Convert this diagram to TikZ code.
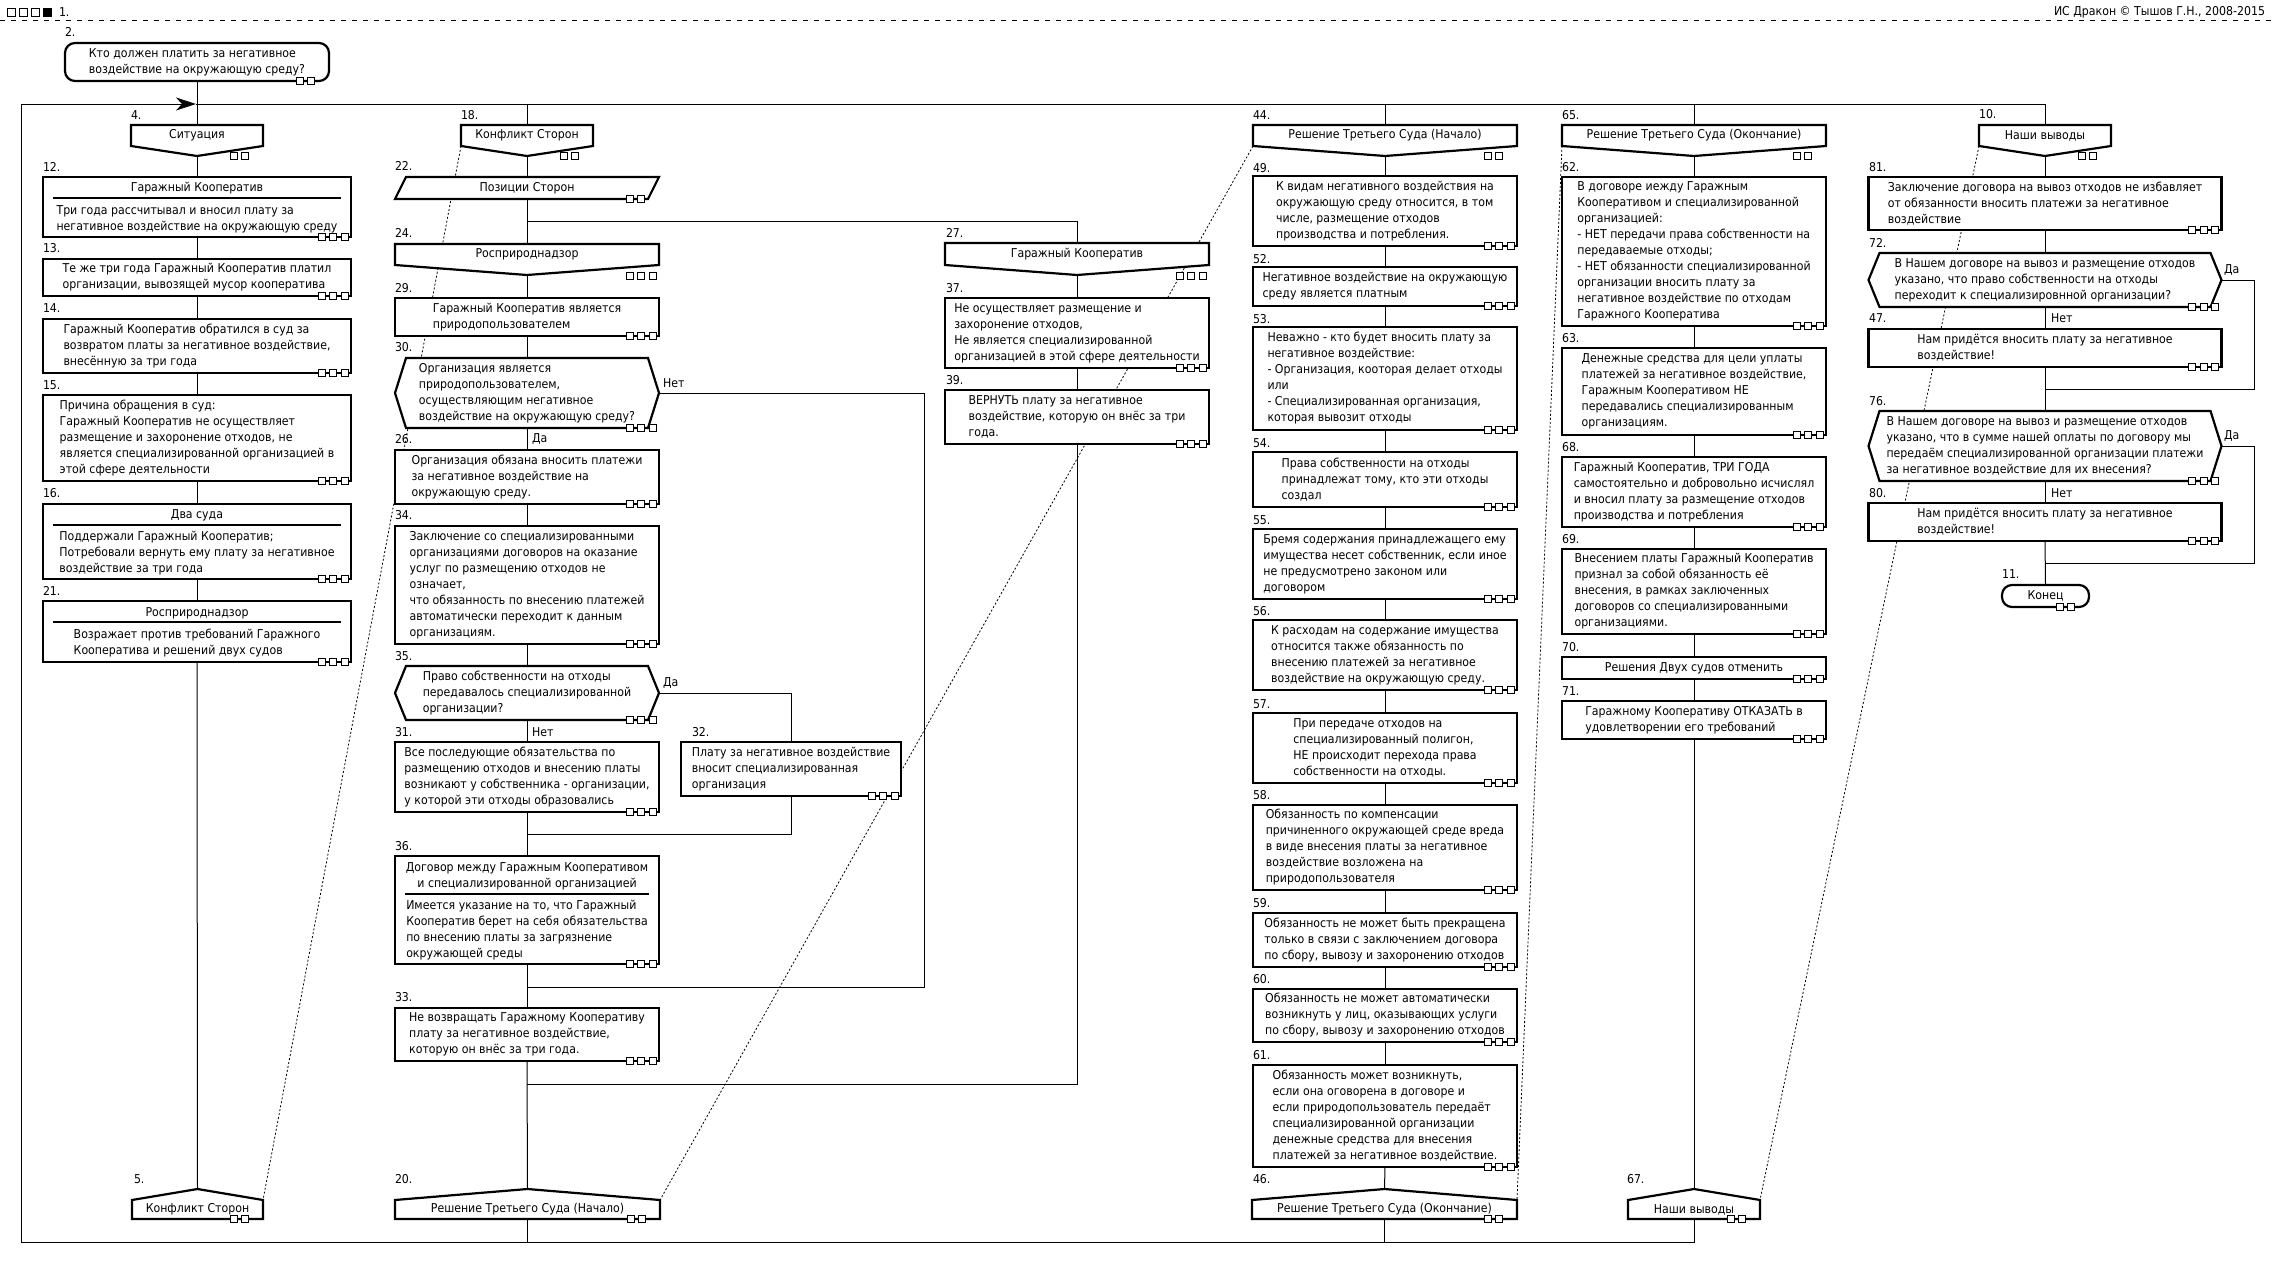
\documentclass[tikz,border=0pt]{standalone}
\usepackage{fontspec}
\setmainfont{DejaVu Sans}[FakeStretch=0.9]
\usetikzlibrary{arrows.meta,calc}
\pgfdeclarelayer{bg}
\pgfsetlayers{bg,main}
% three (or two) small tabs at the lower right of a block
\newcommand{\tabs}[3]{%
  \foreach \dx in {#2}
    \draw[tab] ([xshift=\dx,yshift=-#3]#1.south east) +(-3.5,-3.5) rectangle +(3.5,3.5);}

\begin{document}
\begin{tikzpicture}[
  x=1pt, y=-1pt,
  every node/.style={font=\fontsize{12.2}{16}\selectfont, inner sep=0pt, outer sep=0pt},
  act/.style={draw, line width=2.2pt, align=left, minimum width=264, fill=white},
  wide/.style={act, minimum width=308},
  big/.style={act, minimum width=353},
  shp/.style={align=left, minimum width=264, minimum height=21},
  lbl/.style={anchor=west},
  flow/.style={line width=1pt},
  heavy/.style={line width=2.2pt, line join=miter},
  tab/.style={draw, line width=1pt, fill=white},
  dots/.style={line width=0.8pt, dash pattern=on 2pt off 2pt}
]
\useasboundingbox (0,0) rectangle (2276,1263);

% top strip
\foreach \i in {0,1,2} \draw[line width=1pt] (7.5+12*\i,8.5) rectangle ++(8,8);
\fill (43,8) rectangle ++(9,9);
\node[lbl] (n1) at (59,12) {1.};
\node[anchor=east] (sig) at (2265,12) {ИС Дракон © Тышов Г.Н., 2008-2015};
\draw[line width=1pt, dash pattern=on 5pt off 6pt] (0,21) -- (2276,21);

% title
\node[act, rounded corners=10pt, minimum height=38] (t2) at (197,62) {Кто должен платить за негативное\\воздействие на окружающую среду?};

% numbers
\foreach \t/\x/\y in {2/65/32, 4/131/115, 12/43/167, 13/43/248, 14/43/308, 15/43/385, 16/43/493, 21/43/591, 5/134/1179,
  18/461/115, 22/395/166, 24/395/233, 29/395/288, 30/395/347, 26/395/439, 34/395/515, 35/395/656, 31/395/732,
  32/692/732, 36/395/846, 33/395/997, 20/395/1179, 27/946/233, 37/946/288, 39/946/380,
  44/1253/115, 49/1253/168, 52/1253/259, 53/1253/319, 54/1253/443, 55/1253/520, 56/1253/611, 57/1253/704,
  58/1253/795, 59/1253/903, 60/1253/979, 61/1253/1055, 46/1253/1179,
  65/1562/115, 62/1562/167, 63/1562/338, 68/1562/447, 69/1562/539, 70/1562/647, 71/1562/691, 67/1627/1179,
  10/1979/114, 81/1869/167, 72/1869/243, 47/1869/318, 76/1869/401, 80/1869/493, 11/2002/574}
  \node[lbl] (l\t) at (\x,\y) {\t.};

% branch 1
\node[shp, minimum width=132] (h4) at (197,135.5) {Ситуация};
\node[wide, minimum height=60] (b12) at (197,207) {};
\node (b12h) at (197,188) {Гаражный Кооператив};
\node[align=left] (b12t) at (197,219) {Три года рассчитывал и вносил плату за\\негативное воздействие на окружающую среду};
\node[wide, minimum height=37] (b13) at (197,277.5) {Те же три года Гаражный Кооператив платил\\организации, вывозящей мусор кооператива};
\node[wide, minimum height=54] (b14) at (197,346) {Гаражный Кооператив обратился в суд за\\возвратом платы за негативное воздействие,\\внесённую за три года};
\node[wide, minimum height=86] (b15) at (197,438) {Причина обращения в суд:\\Гаражный Кооператив не осуществляет\\размещение и захоронение отходов, не\\является специализированной организацией в\\этой сфере деятельности};
\node[wide, minimum height=75] (b16) at (197,541.5) {};
\node (b16h) at (197,515) {Два суда};
\node[align=left] (b16t) at (197,553) {Поддержали Гаражный Кооператив;\\Потребовали вернуть ему плату за негативное\\воздействие за три года};
\node[wide, minimum height=61] (b21) at (197,631.5) {};
\node (b21h) at (197,613) {Росприроднадзор};
\node[align=left] (b21t) at (197,643) {Возражает против требований Гаражного\\Кооператива и решений двух судов};
\node[shp, minimum width=131, minimum height=19] (a5) at (197.5,1209.5) {Конфликт Сторон};

% branch 2
\node[shp, minimum width=132] (h18) at (527,135.5) {Конфликт Сторон};
\node[shp, minimum height=22] (p22) at (527,188) {Позиции Сторон};
\node[shp] (s24) at (527,254.5) {Росприроднадзор};
\node[act, minimum height=38] (b29) at (527,317) {Гаражный Кооператив является\\природопользователем};
\node[shp, minimum height=70] (q30) at (527,393) {Организация является\\природопользователем,\\осуществляющим негативное\\воздействие на окружающую среду?};
\node[act, minimum height=54] (b26) at (527,477) {Организация обязана вносить платежи\\за негативное воздействие на\\окружающую среду.};
\node[act, minimum height=118] (b34) at (527,585) {Заключение со специализированными\\организациями договоров на оказание\\услуг по размещению отходов не\\означает,\\что обязанность по внесению платежей\\автоматически переходит к данным\\организациям.};
\node[shp, minimum height=54] (q35) at (527,693) {Право собственности на отходы\\передавалось специализированной\\организации?};
\node[act, minimum height=70] (b31) at (527,777) {Все последующие обязательства по\\размещению отходов и внесению платы\\возникают у собственника - организации,\\у которой эти отходы образовались};
\node[act, minimum width=220, minimum height=54] (b32) at (791,769) {Плату за негативное воздействие\\вносит специализированная\\организация};
\node[act, minimum height=108] (b36) at (527,910) {};
\node[align=center] (b36h) at (527,876) {Договор между Гаражным Кооперативом\\и специализированной организацией};
\node[align=left] (b36t) at (527,930) {Имеется указание на то, что Гаражный\\Кооператив берет на себя обязательства\\по внесению платы за загрязнение\\окружающей среды};
\node[act, minimum height=53] (b33) at (527,1034.5) {Не возвращать Гаражному Кооперативу\\плату за негативное воздействие,\\которую он внёс за три года.};
\node[shp, minimum width=265, minimum height=19] (a20) at (527.5,1209.5) {Решение Третьего Суда (Начало)};

% side branch
\node[shp, minimum height=22] (s27) at (1077,254) {Гаражный Кооператив};
\node[act, minimum height=70] (b37) at (1077,333) {Не осуществляет размещение и\\захоронение отходов,\\Не является специализированной\\организацией в этой сфере деятельности};
\node[act, minimum height=54] (b39) at (1077,417) {ВЕРНУТЬ плату за негативное\\воздействие, которую он внёс за три\\года.};

% branch 3
\node[shp] (h44) at (1385,135.5) {Решение Третьего Суда (Начало)};
\node[act, minimum height=70] (b49) at (1385,211) {К видам негативного воздействия на\\окружающую среду относится, в том\\числе, размещение отходов\\производства и потребления.};
\node[act, minimum height=39] (b52) at (1385,286.5) {Негативное воздействие на окружающую\\среду является платным};
\node[act, minimum height=103] (b53) at (1385,378.5) {Неважно - кто будет вносить плату за\\негативное воздействие:\\- Организация, кооторая делает отходы\\или\\- Специализированная организация,\\которая вывозит отходы};
\node[act, minimum height=55] (b54) at (1385,479.5) {Права собственности на отходы\\принадлежат тому, кто эти отходы\\создал};
\node[act, minimum height=70] (b55) at (1385,564) {Бремя содержания принадлежащего ему\\имущества несет собственник, если иное\\не предусмотрено законом или\\договором};
\node[act, minimum height=70] (b56) at (1385,655) {К расходам на содержание имущества\\относится также обязанность по\\внесению платежей за негативное\\воздействие на окружающую среду.};
\node[act, minimum height=70] (b57) at (1385,748) {При передаче отходов на\\специализированный полигон,\\НЕ происходит перехода права\\собственности на отходы.};
\node[act, minimum height=85] (b58) at (1385,847.5) {Обязанность по компенсации\\причиненного окружающей среде вреда\\в виде внесения платы за негативное\\воздействие возложена на\\природопользователя};
\node[act, minimum height=54] (b59) at (1385,940) {Обязанность не может быть прекращена\\только в связи с заключением договора\\по сбору, вывозу и захоронению отходов};
\node[act, minimum height=53] (b60) at (1385,1015.5) {Обязанность не может автоматически\\возникнуть у лиц, оказывающих услуги\\по сбору, вывозу и захоронению отходов};
\node[act, minimum height=102] (b61) at (1385,1116) {Обязанность может возникнуть,\\если она оговорена в договоре и\\если природопользователь передаёт\\специализированной организации\\денежные средства для внесения\\платежей за негативное воздействие.};
\node[shp, minimum width=265, minimum height=19] (a46) at (1384.5,1209.5) {Решение Третьего Суда (Окончание)};

% branch 4
\node[shp] (h65) at (1694,135.5) {Решение Третьего Суда (Окончание)};
\node[act, minimum height=149] (b62) at (1694,251.5) {В договоре иежду Гаражным\\Кооперативом и специализированной\\организацией:\\- НЕТ передачи права собственности на\\передаваемые отходы;\\- НЕТ обязанности специализированной\\организации вносить плату за\\негативное воздействие по отходам\\Гаражного Кооператива};
\node[act, minimum height=87] (b63) at (1694,391.5) {Денежные средства для цели уплаты\\платежей за негативное воздействие,\\Гаражным Кооперативом НЕ\\передавались специализированным\\организациям.};
\node[act, minimum height=70] (b68) at (1694,492) {Гаражный Кооператив, ТРИ ГОДА\\самостоятельно и добровольно исчислял\\и вносил плату за размещение отходов\\производства и потребления};
\node[act, minimum height=85] (b69) at (1694,591.5) {Внесением платы Гаражный Кооператив\\признал за собой обязанность её\\внесения, в рамках заключенных\\договоров со специализированными\\организациями.};
\node[act, minimum height=22] (b70) at (1694,668) {Решения Двух судов отменить};
\node[act, minimum height=38] (b71) at (1694,720) {Гаражному Кооперативу ОТКАЗАТЬ в\\удовлетворении его требований};
\node[shp, minimum width=132, minimum height=19] (a67) at (1694,1209.5) {Наши выводы};

% branch 5
\node[shp, minimum width=132] (h10) at (2045,135.5) {Наши выводы};
\node[big, minimum height=53] (b81) at (2045,203.5) {Заключение договора на вывоз отходов не избавляет\\от обязанности вносить платежи за негативное\\воздействие};
\node[shp, minimum width=353, minimum height=54] (q72) at (2045,280) {В Нашем договоре на вывоз и размещение отходов\\указано, что право собственности на отходы\\переходит к специализировнной организации?};
\node[big, minimum height=38] (b47) at (2045,348) {Нам придётся вносить плату за негативное\\воздействие!};
\node[shp, minimum width=353, minimum height=70] (q76) at (2045,446) {В Нашем договоре на вывоз и размещение отходов\\указано, что в сумме нашей оплаты по договору мы\\передаём специализированной организации платежи\\за негативное воздействие для их внесения?};
\node[big, minimum height=38] (b80) at (2045,522) {Нам придётся вносить плату за негативное\\воздействие!};
\node[act, rounded corners=10pt, minimum width=87, minimum height=22, align=center] (e11) at (2045.5,596) {Конец};

% yes / no
\node[lbl] (no30) at (663,383) {Нет};
\node[lbl] (yes30) at (532,439) {Да};
\node[lbl] (yes35) at (663,683) {Да};
\node[lbl] (no35) at (532,732) {Нет};
\node[lbl] (yes72) at (2224,270) {Да};
\node[lbl] (no72) at (2051,318) {Нет};
\node[lbl] (yes76) at (2224,436) {Да};
\node[lbl] (no76) at (2051,493) {Нет};

% separators in titled blocks
\draw[line width=1.5pt] (53,198) -- (341,198);
\draw[line width=1.5pt] (53,525) -- (341,525);
\draw[line width=1.5pt] (53,622) -- (341,622);
\draw[line width=1.5pt] (405,894) -- (649,894);

% connectors
\foreach \a/\b in {t2/h4,b12/b13,b13/b14,b14/b15,b15/b16,b16/b21,
  p22/s24,b29/q30,q30/b26,b26/b34,b34/q35,q35/b31,b31/b36,b36/b33,b37/b39,
  b49/b52,b52/b53,b53/b54,b54/b55,b55/b56,b56/b57,b57/b58,b58/b59,b59/b60,b60/b61,
  b62/b63,b63/b68,b68/b69,b69/b70,b70/b71,
  b81/q72,q72/b47,b47/q76,q76/b80,b80/e11}
  \draw[flow] (\a.south) -- (\b.north);
\foreach \a/\b in {h4/b12,h18/p22,s24/b29,s27/b37,h44/b49,h65/b62,h10/b81}
  \draw[flow] ([yshift=-10pt]\a.south) -- (\b.north);
\foreach \a/\b in {b21/a5,b33/a20,b61/a46,b71/a67}
  \draw[flow] (\a.south) -- ([yshift=11pt]\b.north);

\coordinate (tl) at (21,104);
\coordinate (bl) at (21,1242);
\coordinate (arr) at (196,104);
\draw[flow, -{Stealth[length=20pt,width=13pt,inset=6pt]}] (a67.south) |- (bl) -- (tl) -- (arr);
\draw[flow] (arr) -| (h10.north);
\foreach \n in {h18,h44,h65} \draw[flow] (tl -| \n.north) -- (\n.north);
\foreach \n in {a20,a46} \draw[flow] (\n.south) -- (\n.south |- bl);

\coordinate (f22) at (527,221);
\draw[flow] (f22) -| (s27.north);
\coordinate (j30) at (527,987);
\draw[flow] (q30.east) -- ++(265,0) |- (j30);
\coordinate (j35) at (527,834);
\draw[flow] (q35.east) -| (b32.north);
\draw[flow] (b32.south) |- (j35);
\coordinate (j39) at (527,1084);
\draw[flow] (b39.south) |- (j39);
\coordinate (j72) at (2045,389);
\draw[flow] (q72.east) -- ++(33,0) |- (j72);
\coordinate (j76) at (2045,563);
\draw[flow] (q76.east) -- ++(33,0) |- (j76);

% tabs
\foreach \n in {b12,b13,b14,b15,b16,b21,b29,q30,b26,b34,q35,b31,b32,b36,b33,b37,b39,
  b49,b52,b53,b54,b55,b56,b57,b58,b59,b60,b61,b62,b63,b68,b69,b70,b71,b81,q72,b47,q76,b80}
  {\tabs{\n}{-29.5pt,-18pt,-6.5pt}{0pt}}
\foreach \n in {t2,p22,e11,a5,a20,a46,a67} {\tabs{\n}{-29.5pt,-18pt}{0pt}}
\foreach \n in {h4,h18,h44,h65,h10} {\tabs{\n}{-29.5pt,-18pt}{10pt}}
\foreach \n in {s24,s27} {\tabs{\n}{-29.5pt,-18pt,-6.5pt}{11pt}}

% outlines and guide lines behind the blocks
\begin{pgfonlayer}{bg}
\fill[white] (0,0) rectangle (2276,1263);
\foreach \a/\b in {h18/a5,h44/a20,h65/a46,h10/a67}
  \draw[dots] (\a.south west) -- (\b.north east);
\foreach \n in {h4,h18,h44,h65,h10,s24,s27}
  \filldraw[heavy, fill=white] (\n.north west) -- (\n.north east) -- (\n.south east) -- ([yshift=-10pt]\n.south) -- (\n.south west) -- cycle;
\foreach \n in {q30,q35,q72,q76}
  \filldraw[heavy, fill=white] (\n.west) -- ([xshift=11pt]\n.north west) -- ([xshift=-11pt]\n.north east) -- (\n.east) -- ([xshift=-11pt]\n.south east) -- ([xshift=11pt]\n.south west) -- cycle;
\foreach \n in {a5,a20,a46,a67}
  \filldraw[heavy, fill=white] (\n.south west) -- (\n.north west) -- ([yshift=11pt]\n.north) -- (\n.north east) -- (\n.south east) -- cycle;
\filldraw[heavy, fill=white] ([xshift=11pt]p22.north west) -- (p22.north east) -- ([xshift=-11pt]p22.south east) -- (p22.south west) -- cycle;
\end{pgfonlayer}
\end{tikzpicture}
\end{document}
